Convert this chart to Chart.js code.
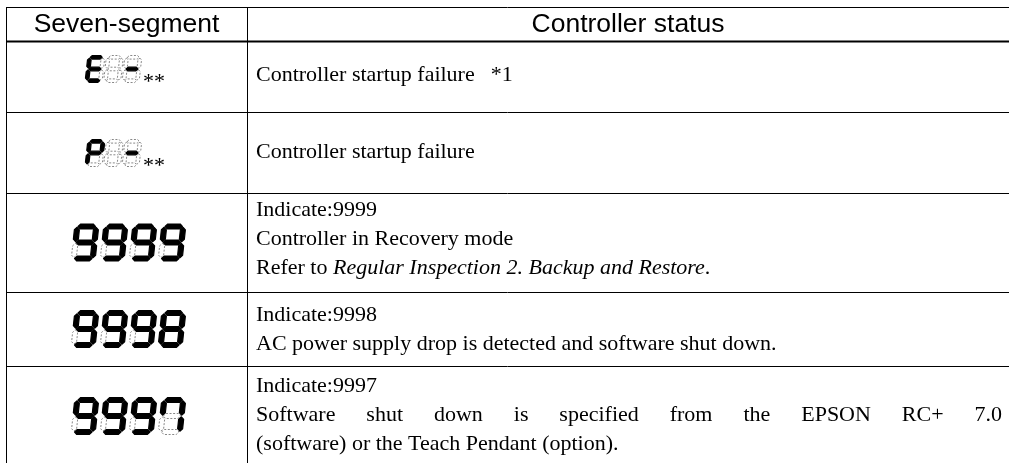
<!DOCTYPE html>
<html><head><meta charset="utf-8">
<script src="https://cdn.jsdelivr.net/npm/chart.js@4"></script>
<style>html,body{margin:0;padding:0;background:#fff;overflow:hidden}#c{display:block}</style>
</head><body><canvas id="c" width="1009" height="463"></canvas>
<script>
// ---- content ----
const headerLabels = ['Seven-segment', 'Controller status'];
const displayDigits = ['E -', 'P -', '9999', '9998', '9997'];
const displaySuffix = ['**', '**', '', '', ''];
const statusLines = [
  ['Controller startup failure\t*1'],
  ['Controller startup failure'],
  ['Indicate:9999', 'Controller in Recovery mode', 'Refer to _Regular Inspection 2. Backup and Restore_.'],
  ['Indicate:9998', 'AC power supply drop is detected and software shut down.'],
  ['Indicate:9997', 'Software shut down is specified from the EPSON RC+ 7.0', '(software) or the Teach Pendant (option).']
];
const justifiedLines = ['Software shut down is specified from the EPSON RC+ 7.0'];

// ---- layout (positions / styles) ----
const colX = [6, 247, 1012];
const rowY = [7, 41, 112, 193, 292, 366, 470];
const textFirst = [75, 152, 210, 315, 386];
const lineGap = 29;
const textLeft = 256, textRight = 1002;
const bodyFont = '"Liberation Serif", "Times New Roman", serif';
const headFont = '"Liberation Sans", Arial, sans-serif';
const bodySize = 22, headSize = 26.5;
const smallCentre = [69, 153];
const smallLeft = 85;

const SEGS = {'9':'abcdfg','8':'abcdefg','7':'abcf','E':'adefg','P':'abefg','-':'g',' ':''};

const rules = [];
rowY.slice(0, 6).forEach((y, i) => rules.push({
  type:'line', data:[{x:colX[0], y:y+0.5},{x:1009, y:y+0.5}],
  borderColor:'#000', borderWidth: i===1 ? 2 : 1, pointRadius:0, showLine:true, fill:false
}));
colX.slice(0, 2).forEach(x => rules.push({
  type:'line', data:[{x:x+0.5, y:rowY[0]},{x:x+0.5, y:rowY[6]}],
  borderColor:'#000', borderWidth:1, pointRadius:0, showLine:true, fill:false
}));

function drawDigit(ctx, ch, x0, y0, W, H, t, slant) {
  const on = SEGS[ch] || '';
  const P = (u, v) => [x0 + u + slant * (1 - v / H), y0 + v];
  const g = 0.8, h = t / 2;
  const hor = (vc) => [[h+g, vc],[t+g, vc-h],[W-t-g, vc-h],[W-h-g, vc],[W-t-g, vc+h],[t+g, vc+h]];
  const ver = (uc, v1, v2) => [[uc, v1+g],[uc+h, v1+h+g],[uc+h, v2-h-g],[uc, v2-g],[uc-h, v2-h-g],[uc-h, v1+h+g]];
  const shapes = {
    a: hor(h), g: hor(H/2), d: hor(H-h),
    f: ver(h, h, H/2), b: ver(W-h, h, H/2),
    e: ver(h, H/2, H-h), c: ver(W-h, H/2, H-h)
  };
  for (const k of 'abcdefg') {
    const pts = shapes[k].map(p => P(p[0], p[1]));
    ctx.beginPath();
    pts.forEach((p, i) => i ? ctx.lineTo(p[0], p[1]) : ctx.moveTo(p[0], p[1]));
    ctx.closePath();
    if (on.includes(k)) {
      ctx.fillStyle = '#000'; ctx.lineJoin = 'round'; ctx.strokeStyle = '#000';
      ctx.setLineDash([]); ctx.lineWidth = 1.2; ctx.fill(); ctx.stroke();
    } else {
      ctx.strokeStyle = '#7a7a7a'; ctx.lineWidth = 0.9; ctx.setLineDash([2, 1.6]); ctx.stroke();
    }
  }
  ctx.setLineDash([]);
}

function runs(line) {
  return line.split('_').map((s, i) => ({text: s, italic: i % 2 === 1})).filter(r => r.text.length);
}

function drawLine(ctx, line, x, y) {
  ctx.textBaseline = 'middle'; ctx.fillStyle = '#000';
  if (justifiedLines.includes(line)) {
    ctx.font = bodySize + 'px ' + bodyFont;
    const words = line.split(' ');
    const total = words.reduce((s, w) => s + ctx.measureText(w).width, 0);
    const gap = (textRight - x - total) / (words.length - 1);
    let cx = x;
    words.forEach(w => { ctx.fillText(w, cx, y); cx += ctx.measureText(w).width + gap; });
    return;
  }
  if (line.includes('\t')) {
    const [a, b] = line.split('\t');
    ctx.font = bodySize + 'px ' + bodyFont;
    ctx.fillText(a, x, y);
    ctx.fillText(b, x + ctx.measureText(a).width + 16, y);
    return;
  }
  let cx = x;
  for (const r of runs(line)) {
    ctx.font = (r.italic ? 'italic ' : '') + bodySize + 'px ' + bodyFont;
    ctx.fillText(r.text, cx, y);
    cx += ctx.measureText(r.text).width;
  }
}

const tablePlugin = {
  id: 'table',
  afterDatasetsDraw(chart) {
    const ctx = chart.ctx, xs = chart.scales.x, ys = chart.scales.y;
    ctx.save();
    ctx.font = headSize + 'px ' + headFont; ctx.fillStyle = '#000';
    ctx.textAlign = 'center'; ctx.textBaseline = 'middle';
    headerLabels.forEach((h, i) => {
      const cx = xs.getPixelForValue((colX[i] + Math.min(colX[i+1], 1009)) / 2);
      ctx.fillText(h, cx, ys.getPixelForValue((rowY[0] + rowY[1]) / 2 + 1));
    });
    ctx.textAlign = 'left';
    statusLines.forEach((lines, r) => {
      lines.forEach((ln, k) => drawLine(ctx, ln, xs.getPixelForValue(textLeft), ys.getPixelForValue(textFirst[r] + k * lineGap)));
    });
    displayDigits.forEach((d, r) => {
      const small = displaySuffix[r].length > 0;
      const W = small ? 17 : 24, H = small ? 27 : 37, t = small ? 3.6 : 5, sl = small ? 3 : 4, pitch = small ? 18.5 : 29;
      const rc = (rowY[r+1] + Math.min(rowY[r+2], 466)) / 2;
      const cy = small ? smallCentre[r] : rc;
      const groupW = (d.length - 1) * pitch + W;
      const x0 = xs.getPixelForValue(small ? smallLeft : (colX[0] + colX[1]) / 2 - groupW / 2);
      const y0 = ys.getPixelForValue(cy - H / 2);
      [...d].forEach((ch, i) => drawDigit(ctx, ch, x0 + i * pitch, y0, W, H, t, sl));
      if (small) {
        ctx.font = '22px ' + bodyFont; ctx.textBaseline = 'alphabetic'; ctx.fillStyle = '#000';
        ctx.fillText(displaySuffix[r], x0 + (d.length - 1) * pitch + W + 4, y0 + H + 5);
      }
    });
    ctx.restore();
  }
};

new Chart(document.getElementById('c'), {
  type: 'scatter',
  data: { datasets: rules },
  options: {
    responsive: false, animation: false, devicePixelRatio: 1,
    layout: { padding: 0 },
    plugins: { legend: { display: false }, tooltip: { enabled: false } },
    elements: { line: { tension: 0, borderCapStyle: 'butt' } },
    scales: {
      x: { type: 'linear', min: 0, max: 1009, display: false },
      y: { type: 'linear', min: 0, max: 463, reverse: true, display: false }
    }
  },
  plugins: [tablePlugin]
});
</script>
</body></html>
